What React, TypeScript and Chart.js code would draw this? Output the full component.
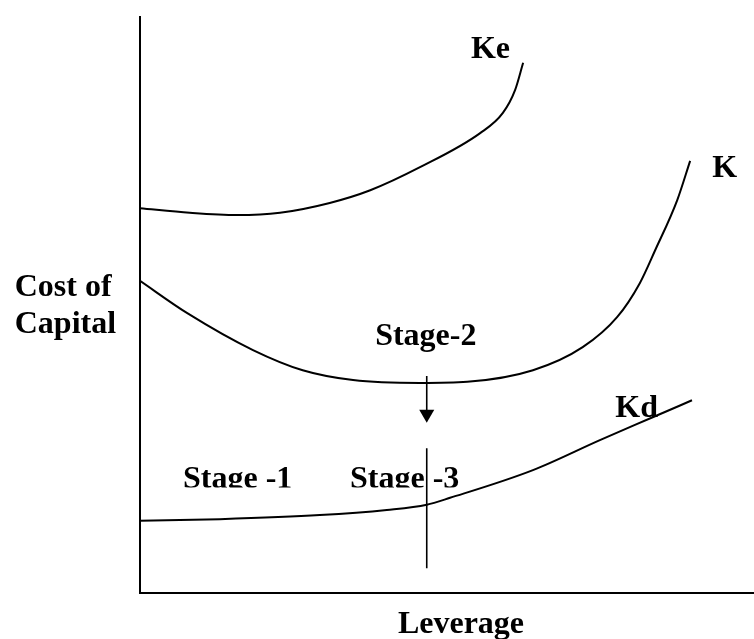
import React, { useEffect, useRef } from "react";
import { Chart, registerables } from "chart.js";

Chart.register(...registerables);

// Curves (leverage 0-100, cost of capital 0-100)
const keX = [0, 8.1, 15.8, 22.8, 30.9, 37.5, 45.6, 55.4, 59.1, 61.1, 62.4];
const keY = [66.7, 65.9, 65.5, 65.9, 67.6, 69.8, 73.8, 79.7, 83.2, 87.2, 91.9];

const kX = [0, 7.7, 18.4, 26.5, 34.7, 45.6, 53.3, 64.0, 72.1, 77.7, 81.4, 83.9, 87.5, 89.6];
const kY = [54.1, 48.5, 42.1, 38.6, 36.9, 36.4, 36.6, 38.6, 42.6, 47.8, 53.7, 59.4, 68.1, 74.9];

const kdX = [0, 13.0, 29.3, 40.2, 46.7, 50.5, 64.0, 74.9, 83.6, 89.9];
const kdY = [12.5, 12.8, 13.5, 14.4, 15.3, 16.5, 21.3, 26.5, 30.5, 33.4];

// Stage divider and arrow
const dividerX = [46.7, 46.7];
const dividerY = [25.1, 4.3];
const arrowX = [46.7, 46.7];
const arrowY = [37.6, 31.0];

// Text labels
const curveLabels = ["Ke", "K", "Kd", "Stage-2"];
const curveLabelX = [53.9, 93.2, 77.4, 38.3];
const curveLabelY = [92.7, 72.1, 30.5, 43.0];

const stageLabels = ["Stage -1", "Stage -3"];
const stageLabelX = [7.0, 34.2];
const stageLabelY = [18.2, 18.2];
const stageClipY = 18.3;

const yTitle = ["Cost of", "Capital"];
const yTitleX = [-20.4, -20.4];
const yTitleY = [51.5, 45.1];
const xTitle = "Leverage";
const xTitleX = 42.0;
const xTitleY = -6.9;

const FONT = 'bold 32px "Liberation Serif", "Times New Roman", serif';

const zip = (xs: number[], ys: number[]) => xs.map((x, i) => ({ x, y: ys[i] }));

const diagramPlugin = {
  id: "diagram",
  afterDatasetsDraw(chart: any) {
    const { ctx, scales } = chart;
    const sx = scales.x;
    const sy = scales.y;
    const px = (v: number) => sx.getPixelForValue(v);
    const py = (v: number) => sy.getPixelForValue(v);
    ctx.save();
    // axes
    ctx.strokeStyle = "#000";
    ctx.lineWidth = 2;
    ctx.beginPath();
    ctx.moveTo(px(0), py(100));
    ctx.lineTo(px(0), py(0));
    ctx.lineTo(px(100), py(0));
    ctx.stroke();

    ctx.fillStyle = "#000";
    ctx.font = FONT;
    ctx.textAlign = "left";
    ctx.textBaseline = "alphabetic";
    curveLabels.forEach((t, i) => ctx.fillText(t, px(curveLabelX[i]), py(curveLabelY[i])));
    yTitle.forEach((t, i) => ctx.fillText(t, px(yTitleX[i]), py(yTitleY[i])));
    ctx.fillText(xTitle, px(xTitleX), py(xTitleY));

    ctx.save();
    ctx.beginPath();
    ctx.rect(0, 0, chart.width, py(stageClipY));
    ctx.clip();
    stageLabels.forEach((t, i) => ctx.fillText(t, px(stageLabelX[i]), py(stageLabelY[i])));
    ctx.restore();

    ctx.restore();
  },
};

export default function App() {
  const ref = useRef<HTMLCanvasElement | null>(null);

  useEffect(() => {
    if (!ref.current) return;
    const curve = (xs: number[], ys: number[]) => ({
      data: zip(xs, ys),
      borderColor: "#000",
      borderWidth: 2,
      pointRadius: 0,
      fill: false,
      cubicInterpolationMode: "monotone" as const,
    });
    const chart = new Chart(ref.current, {
      type: "line",
      data: {
        datasets: [
          { label: "Ke", ...curve(keX, keY) },
          { label: "K", ...curve(kX, kY) },
          { label: "Kd", ...curve(kdX, kdY) },
          {
            label: "divider",
            data: zip(dividerX, dividerY),
            borderColor: "#000",
            borderWidth: 1.6,
            pointRadius: 0,
            tension: 0,
          },
          {
            label: "arrow",
            data: zip(arrowX, arrowY),
            borderColor: "#000",
            backgroundColor: "#000",
            borderWidth: 1.6,
            pointRadius: [0, 8.7],
            pointStyle: "triangle",
            rotation: 180,
            pointBorderWidth: 0,
            tension: 0,
          } as any,
        ],
      },
      options: {
        animation: false,
        responsive: false,
        devicePixelRatio: 1,
        layout: { autoPadding: false, padding: { left: 140, top: 16, right: 0, bottom: 46 } },
        scales: {
          x: { type: "linear", min: 0, max: 100, display: false },
          y: { type: "linear", min: 0, max: 100, display: false },
        },
        plugins: {
          legend: { display: false },
          tooltip: { enabled: false },
        },
      },
      plugins: [diagramPlugin],
    });
    return () => chart.destroy();
  }, []);

  return (
    <div style={{ position: "absolute", left: 0, top: 0, width: 754, height: 639, background: "#fff" }}>
      <canvas ref={ref} width={754} height={639} style={{ display: "block", width: 754, height: 639 }} />
    </div>
  );
}
